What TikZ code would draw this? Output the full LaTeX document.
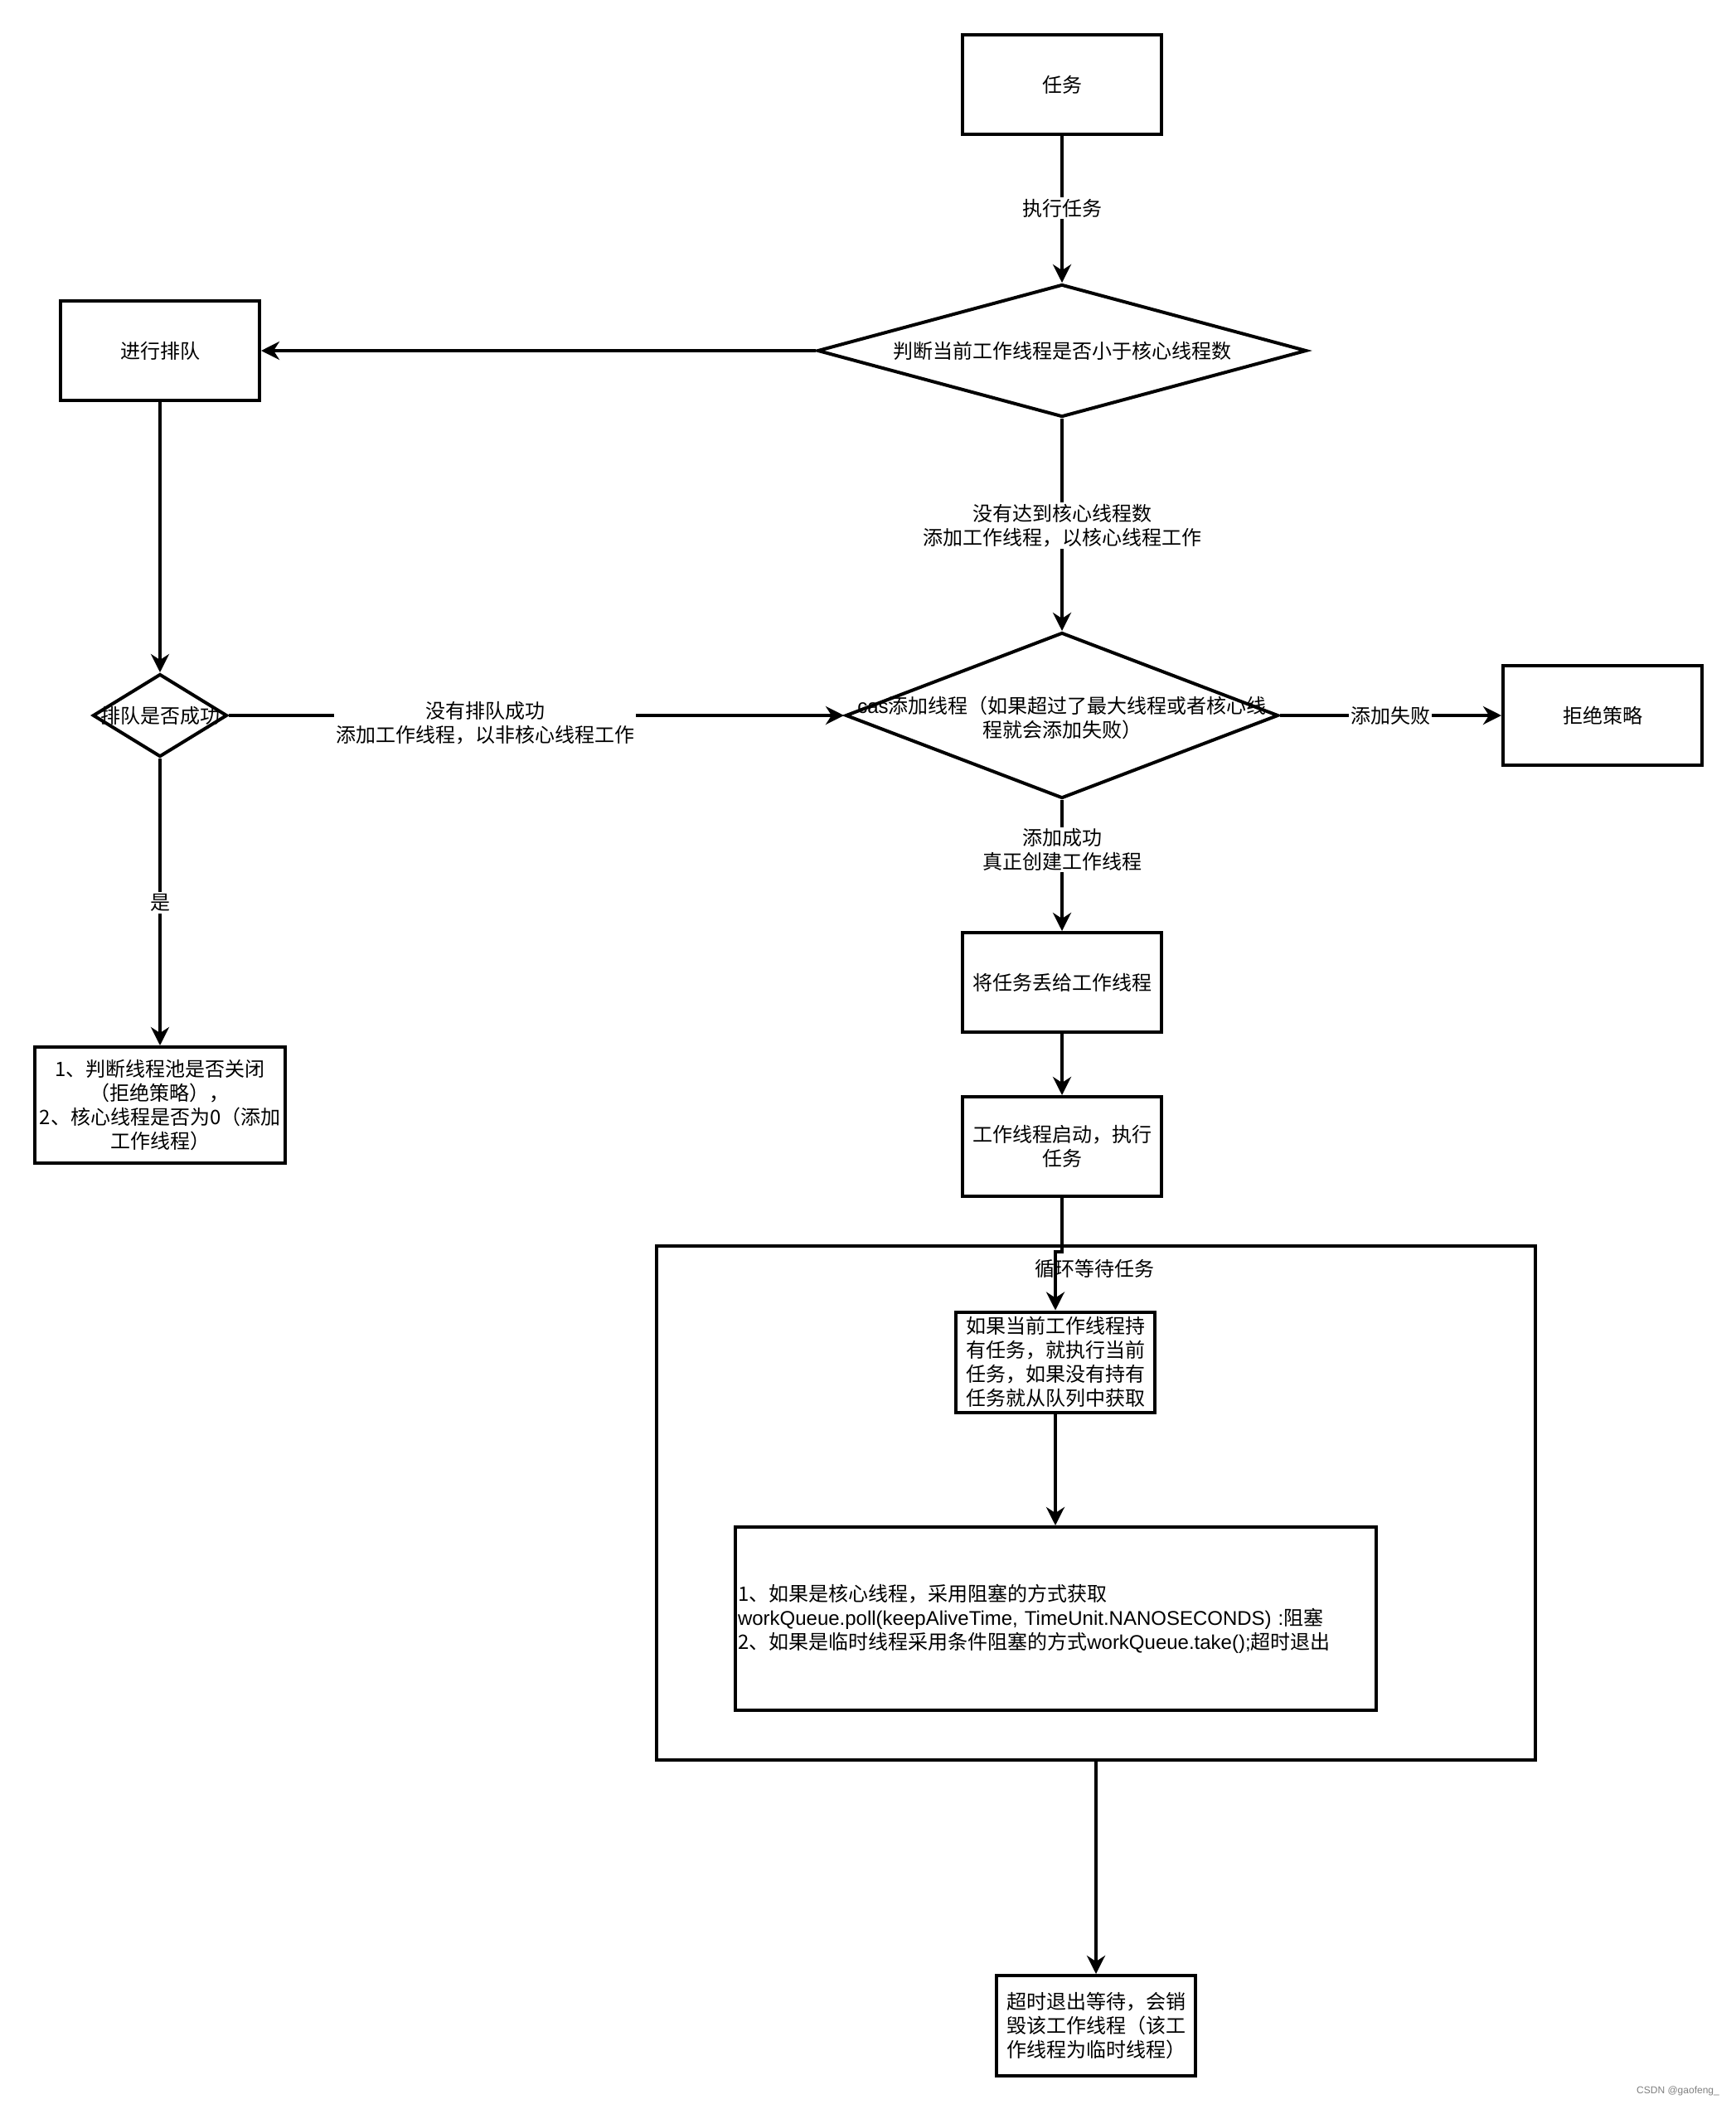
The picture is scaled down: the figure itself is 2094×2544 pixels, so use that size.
\documentclass[tikz,border=0pt]{standalone}
\usepackage{fontspec}
\setmainfont{Noto Sans CJK SC}
\newfontfamily\lat{Liberation Sans}
\usetikzlibrary{shapes.geometric,arrows.meta}
\newcommand\myfs{\fontsize{12pt}{14.4pt}\selectfont}
\tikzset{
  box/.style={draw, line width=2pt, rectangle, minimum width=120pt, minimum height=60pt, align=center, inner sep=1pt, font=\myfs},
  dia/.style={draw, line width=2pt, diamond, inner sep=0pt},
  txt/.style={align=center, inner sep=0pt, font=\myfs},
  lab/.style={fill=white, inner sep=1pt, align=center, font=\myfs},
  conn/.style={line width=2pt, -{Stealth[length=11pt,width=11pt,inset=3.5pt]}},
  plain/.style={line width=2pt}
}
\begin{document}
\begin{tikzpicture}[x=0.5pt,y=-0.5pt]
\useasboundingbox[fill=white] (0,0) rectangle (2094,2544);
% container
\node[draw, line width=2pt, rectangle, minimum width=530pt, minimum height=310pt, inner sep=0pt] (cont) at (1322,1813) {};
\node[txt] (contlab) at (1320,1530) {循环等待任务};
% boxes
\node[box] (task) at (1281,102) {任务};
\node[dia, minimum width=295pt, minimum height=80pt] (d1) at (1281,423) {};
\node[txt] (d1t) at (d1) {判断当前工作线程是否小于核心线程数};
\node[box] (queue) at (193,423) {进行排队};
\node[dia, minimum width=81pt, minimum height=50pt] (d2) at (193,863) {};
\node[txt] (d2t) at (d2) {排队是否成功};
\node[dia, minimum width=261pt, minimum height=100pt] (d3) at (1281,863) {};
\node[txt] (d3t) at (1281,866) {{\lat cas}添加线程（如果超过了最大线程或者核心线\\程就会添加失败）};
\node[box] (reject) at (1933,863) {拒绝策略};
\node[box] (give) at (1281,1185) {将任务丢给工作线程};
\node[box] (start) at (1281,1383) {工作线程启动，执行\\任务};
\node[box, minimum width=151pt, minimum height=70pt] (check) at (193,1333) {1、判断线程池是否关闭\\（拒绝策略），\\2、核心线程是否为0（添加\\工作线程）};
\node[box, minimum height=60.5pt] (ib1) at (1273,1643) {如果当前工作线程持\\有任务，就执行当前\\任务，如果没有持有\\任务就从队列中获取};
\node[box, minimum width=386.5pt, minimum height=110.5pt, text width=383pt, inner xsep=1.5pt, align=left] (ib2) at (1273,1952.5) {1、如果是核心线程，采用阻塞的方式获取\\{\lat workQueue.poll(keepAliveTime, TimeUnit.NANOSECONDS) :}阻塞\\2、如果是临时线程采用条件阻塞的方式{\lat workQueue.take();}超时退出};
\node[box, minimum height=60.5pt] (final) at (1322,2443.5) {超时退出等待，会销\\毁该工作线程（该工\\作线程为临时线程）};
% junction coordinates
\coordinate (j1) at (1281,1510);
\coordinate (j2) at (1273,1510);
% connectors
\draw[conn] (task) -- (d1);
\draw[conn] (d1.west) -- (queue.east);
\draw[conn] (queue.south) -- (d2.north);
\draw[conn] (d1.south) -- (d3.north);
\draw[conn] (d2.east) -- (d3.west);
\draw[conn] (d3.east) -- (reject.west);
\draw[conn] (d3.south) -- (give.north);
\draw[conn] (give.south) -- (start.north);
\draw[conn] (d2.south) -- (check.north);
\draw[conn] (start.south) -- (j1) -- (j2) -- (ib1.north);
\draw[conn] (ib1.south) -- (ib2.north);
\draw[conn] (cont.south) -- (final.north);
% edge labels
\node[lab] (l1) at (1281,251) {执行任务};
\node[lab] (l2) at (1281,634) {没有达到核心线程数\\添加工作线程，以核心线程工作};
\node[lab] (l3) at (585,872) {没有排队成功\\添加工作线程，以非核心线程工作};
\node[lab] (l4) at (1677,863) {添加失败};
\node[lab] (l5) at (1281,1025) {添加成功\\真正创建工作线程};
\node[lab] (l6) at (193,1089) {是};
% watermark
\node[inner sep=0pt, text=gray, font=\lat\fontsize{6pt}{7pt}\selectfont] (wm) at (2024,2522) {CSDN @gaofeng\_};
\end{tikzpicture}
\end{document}
